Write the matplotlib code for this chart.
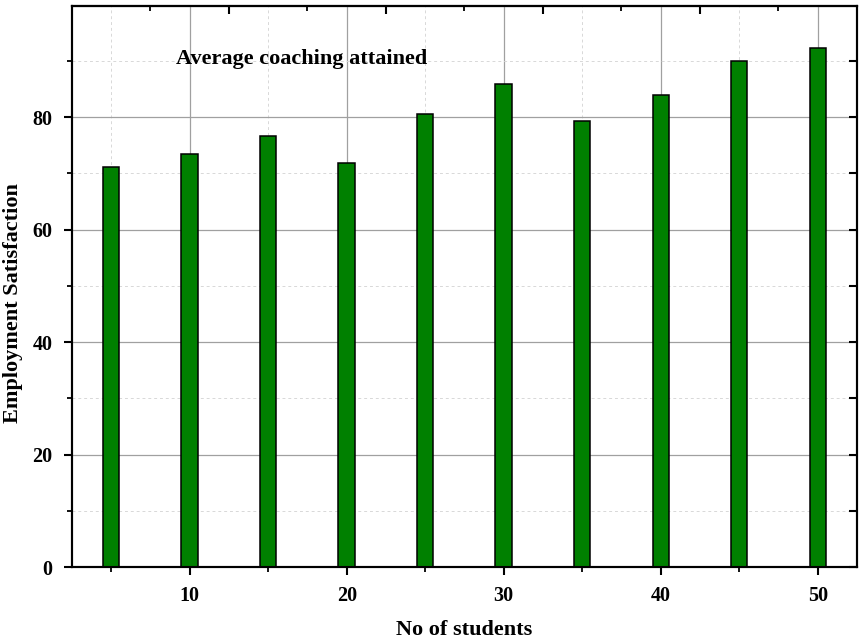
import matplotlib.pyplot as plt
from matplotlib.ticker import MultipleLocator, FixedLocator

# values
students = [5, 10, 15, 20, 25, 30, 35, 40, 45, 50]
satisfaction = [71.1, 73.4, 76.7, 71.9, 80.6, 85.9, 79.3, 83.9, 90.0, 92.3]

plt.rcParams["font.family"] = ["Liberation Serif", "DejaVu Serif"]
plt.rcParams["font.weight"] = "bold"

fig = plt.figure(figsize=(8.62, 6.42), dpi=100)
ax = fig.add_axes([0.0835, 0.1168, 0.9107, 0.8739])

ax.bar(students, satisfaction, width=1.05, color="#008000",
       edgecolor="black", linewidth=1.1, zorder=3)

ax.set_xlim(2.5, 52.5)
ax.set_ylim(0, 99.8)

ax.xaxis.set_major_locator(MultipleLocator(10))
ax.xaxis.set_minor_locator(MultipleLocator(5))
ax.yaxis.set_major_locator(MultipleLocator(20))
ax.yaxis.set_minor_locator(MultipleLocator(10))

ax.grid(which="major", color="#a0a0a0", linewidth=0.9, zorder=0)
ax.grid(which="minor", color="#d8d8d8", linewidth=0.7, linestyle=(0, (3, 3)), zorder=0)
ax.set_axisbelow(True)

for sp in ax.spines.values():
    sp.set_linewidth(1.5)

ax.tick_params(which="major", direction="out", length=6, width=1.5, labelsize=14.5)
ax.tick_params(which="minor", direction="out", length=3.8, width=1.3)
ax.tick_params(axis="x", pad=8)
ax.tick_params(axis="y", pad=8)

# top axis with Origin-style offset ticks, no labels
top = ax.secondary_xaxis("top")
top.xaxis.set_major_locator(FixedLocator([12.5, 22.5, 32.5, 42.5]))
top.xaxis.set_minor_locator(FixedLocator([7.5, 17.5, 27.5, 37.5, 47.5]))
top.tick_params(which="major", direction="in", length=6, width=1.5, labeltop=False)
top.tick_params(which="minor", direction="in", length=3.8, width=1.3)
top.spines["top"].set_linewidth(1.5)

# right side: inward ticks every 10
right = ax.twinx()
right.set_ylim(ax.get_ylim())
right.yaxis.set_major_locator(MultipleLocator(10))
right.yaxis.set_minor_locator(FixedLocator([]))
right.tick_params(which="major", direction="in", length=6, width=1.5, labelright=False)
for sp in right.spines.values():
    sp.set_linewidth(1.5)

ax.set_xlabel("No of students", fontsize=16, fontweight="bold")
ax.set_ylabel("Employment Satisfaction", fontsize=16, fontweight="bold")
ax.xaxis.set_label_coords(0.5, -0.094)
ax.yaxis.set_label_coords(-0.063, 0.471)

ax.text(17.1, 90.4, "Average coaching attained", fontsize=16, fontweight="bold",
        ha="center", va="center", zorder=4)

fig.savefig("out.png", dpi=100)
